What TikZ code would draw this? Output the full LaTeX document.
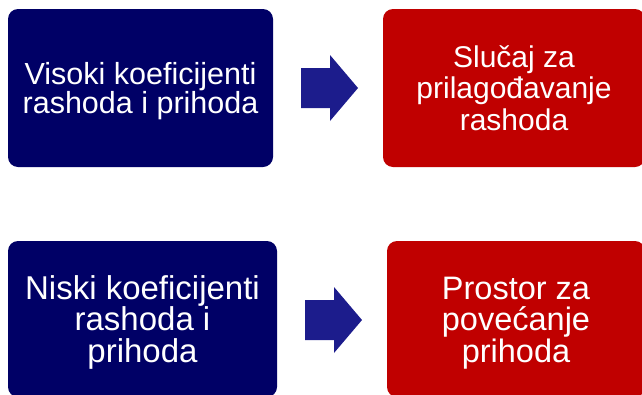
\documentclass[tikz,border=0pt]{standalone}
\usepackage{fontspec}
\setmainfont{Liberation Sans}
\usetikzlibrary{positioning}
\definecolor{boxnavy}{RGB}{0,0,102}
\definecolor{boxred}{RGB}{192,0,0}
\definecolor{arrnavy}{RGB}{28,28,140}
\tikzset{
    bluebox/.style = {rectangle, rounded corners=10pt, fill=boxnavy, draw=none, text=white, align=center,
                      inner sep=0pt, font=\fontsize{30.5}{31}\selectfont},
    redbox/.style = {bluebox, fill=boxred},
    twolines/.style = {font=\fontsize{30.5}{29.5}\selectfont, text height=51pt, text depth=0pt},
    threelines/.style = {font=\fontsize{30}{31.5}\selectfont, text height=84.5pt, text depth=0pt},
    threebig/.style = {font=\fontsize{#1}{31.5}\selectfont, text height=86pt, text depth=0pt}
}
\tikzset{blockarr/.style = {fill=arrnavy, draw=none}}
\begin{document}
\begin{tikzpicture}[x=1pt,y=-1pt]
\useasboundingbox (0,0) rectangle (642,394);
%
\node[bluebox,twolines,minimum width=265pt,minimum height=158pt] at (140.5,88) (visoki) {Visoki koeficijenti\\rashoda i prihoda};
\node[redbox,threelines,minimum width=262pt,minimum height=158pt] at (514,88) (slucaj) {Slučaj za\\prilagođavanje\\rashoda};
\node[bluebox,threebig=33,minimum width=269pt,minimum height=156pt] at (142.5,319) (niski) {Niski koeficijenti\\rashoda i\\prihoda};
\node[redbox,threebig=32.5,minimum width=258pt,minimum height=156pt] at (516,319) (prostor) {Prostor za\\povećanje\\prihoda};
%
\coordinate (a1) at (301,88);
\coordinate (a2) at (305,320);
\fill[blockarr] (a1) ++(0,-20) -- ++(29,0) -- ++(0,-13) -- ++(28,33) -- ++(-28,33) -- ++(0,-13) -- ++(-29,0) -- cycle;
\fill[blockarr] (a2) ++(0,-20) -- ++(29,0) -- ++(0,-13) -- ++(28,33) -- ++(-28,33) -- ++(0,-13) -- ++(-29,0) -- cycle;

\end{tikzpicture}
\end{document}
